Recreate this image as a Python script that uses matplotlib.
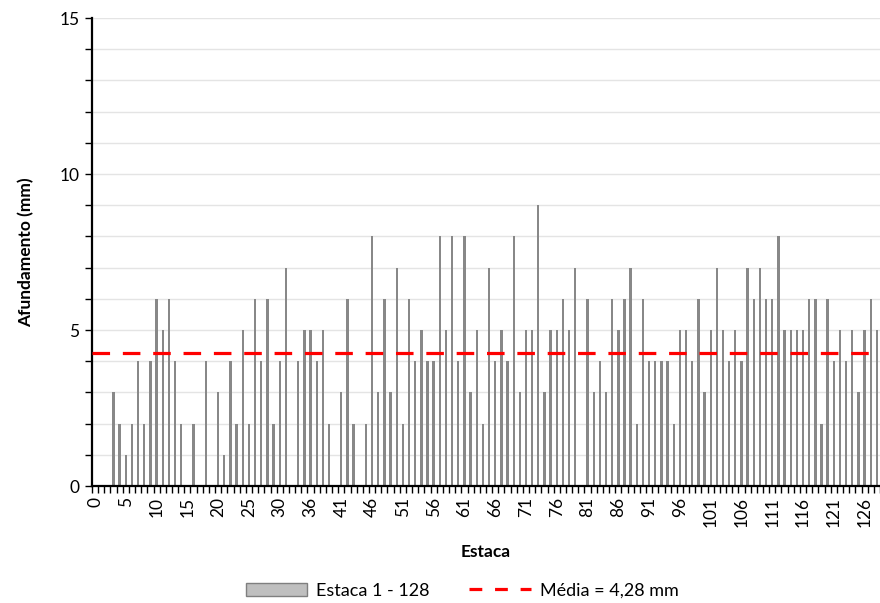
import numpy as np
import matplotlib
matplotlib.use('Agg')
import matplotlib.pyplot as plt
from matplotlib.patches import Patch
from matplotlib.lines import Line2D

plt.rcParams['font.family'] = ['Lato', 'DejaVu Sans']

# Stations (one number is skipped between 30 and 36)
estacas = list(range(0, 31)) + list(range(32, 129))

# Rut depth per station (mm)
afundamento = [0, 0, 0, 3, 2, 1, 2, 4, 2, 4,
               6, 5, 6, 4, 2, 0, 2, 0, 4, 0,
               3, 1, 4, 2, 5, 2, 6, 4, 6, 2,
               4, 7, 0, 4, 5, 5, 4, 5, 2, 0,
               3, 6, 2, 0, 2, 8, 3, 6, 3, 7,
               2, 6, 4, 5, 4, 4, 8, 5, 8, 4,
               8, 3, 5, 2, 7, 4, 5, 4, 8, 3,
               5, 5, 9, 3, 5, 5, 6, 5, 7, 0,
               6, 3, 4, 3, 6, 5, 6, 7, 2, 6,
               4, 4, 4, 4, 2, 5, 5, 4, 6, 3,
               5, 7, 5, 4, 5, 4, 7, 6, 7, 6,
               6, 8, 5, 5, 5, 5, 6, 6, 2, 6,
               4, 5, 4, 5, 3, 5, 6, 5]

media = 4.28

fig = plt.figure(figsize=(8.8, 6.03), dpi=100)
ax = fig.add_axes([0.1045, 0.194, 0.8955, 0.776])

x = np.arange(len(estacas))

# Light gridlines at every mm
for v in range(1, 16):
    ax.axhline(v, color='#e4e4e4', lw=1.0, zorder=0)

ax.bar(x, afundamento, width=0.38, color='#888888', linewidth=0, zorder=2)
ax.axhline(media, color='#ff0000', lw=2.3, dashes=(5.5, 4), zorder=3)

ax.set_ylim(0, 15)
ax.set_xlim(-0.5, 126.5)

# y axis: labels every 5, ticks every 1
ax.set_yticks([0, 5, 10, 15])
ax.set_yticks(range(0, 16), minor=True)
ax.tick_params(axis='y', which='both', direction='out', length=5, width=1,
               color='black', labelsize=12.5, pad=4)

# x axis: ticks between categories, labels every 5 stations
ax.set_xticks(np.arange(-0.5, len(estacas), 1), minor=True)
ax.set_xticks(x[::5])
ax.set_xticklabels([str(estacas[i]) for i in x[::5]], rotation=90)
ax.tick_params(axis='x', which='major', length=0, labelsize=12.5, pad=8)
ax.tick_params(axis='x', which='minor', direction='out', length=5, width=1,
               color='black')

for side in ['top', 'right']:
    ax.spines[side].set_visible(False)
for side in ['left', 'bottom']:
    ax.spines[side].set_linewidth(1.6)
    ax.spines[side].set_color('black')

ax.set_xlabel('Estaca', fontsize=12.5, fontweight='bold', labelpad=12)
ax.set_ylabel('Afundamento (mm)', fontsize=12.5, fontweight='bold', labelpad=18)

handles = [Patch(facecolor='#bfbfbf', edgecolor='#7f7f7f', linewidth=1),
           Line2D([], [], color='#ff0000', lw=2.3, dashes=(4, 4))]
fig.legend(handles, ['Estaca 1 - 128', 'Média = 4,28 mm'],
           loc='lower center', bbox_to_anchor=(0.525, -0.02), ncol=2,
           frameon=False, fontsize=13, handlelength=3.4, columnspacing=2.2,
           handletextpad=0.5)

plt.savefig('out.png', dpi=100)
